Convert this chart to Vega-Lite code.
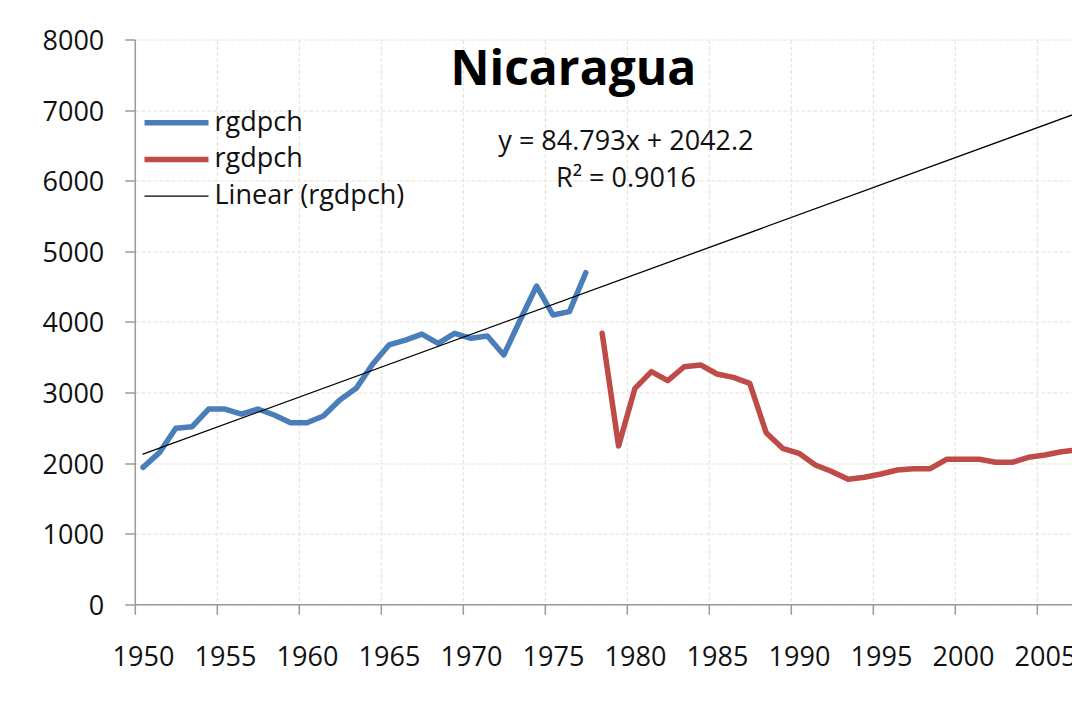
{
  "$schema": "https://vega.github.io/schema/vega-lite/v6.json",
  "width": 937.2,
  "height": 564.8,
  "autosize": {"type": "none"},
  "padding": {"left": 134.8, "top": 39.5, "right": 0, "bottom": 96.7},
  "background": "white",
  "title": {
    "text": "Nicaragua",
    "font": "Open Sans",
    "fontSize": 48,
    "fontWeight": "bold",
    "color": "#000000",
    "anchor": "middle",
    "frame": "group",
    "dx": -30,
    "baseline": "alphabetic",
    "offset": 0,
    "dy": 105
  },
  "config": {
    "view": {"stroke": null},
    "font": "Open Sans",
    "axis": {
      "domainColor": "#9a9a9a",
      "domainWidth": 1.5,
      "tickColor": "#9a9a9a",
      "tickWidth": 1.5,
      "tickSize": 10,
      "gridColor": "#e6e2d0",
      "gridDash": [4, 2],
      "gridWidth": 1,
      "labelFont": "Open Sans",
      "labelFontSize": 27,
      "labelColor": "#111111",
      "title": null
    }
  },
  "data": {
    "values": [
      {"year": 1950, "value": 1940, "series": "a"},
      {"year": 1951, "value": 2148, "series": "a"},
      {"year": 1952, "value": 2493, "series": "a"},
      {"year": 1953, "value": 2516, "series": "a"},
      {"year": 1954, "value": 2766, "series": "a"},
      {"year": 1955, "value": 2766, "series": "a"},
      {"year": 1956, "value": 2695, "series": "a"},
      {"year": 1957, "value": 2766, "series": "a"},
      {"year": 1958, "value": 2681, "series": "a"},
      {"year": 1959, "value": 2572, "series": "a"},
      {"year": 1960, "value": 2572, "series": "a"},
      {"year": 1961, "value": 2667, "series": "a"},
      {"year": 1962, "value": 2894, "series": "a"},
      {"year": 1963, "value": 3059, "series": "a"},
      {"year": 1964, "value": 3400, "series": "a"},
      {"year": 1965, "value": 3673, "series": "a"},
      {"year": 1966, "value": 3743, "series": "a"},
      {"year": 1967, "value": 3828, "series": "a"},
      {"year": 1968, "value": 3697, "series": "a"},
      {"year": 1969, "value": 3838, "series": "a"},
      {"year": 1970, "value": 3768, "series": "a"},
      {"year": 1971, "value": 3800, "series": "a"},
      {"year": 1972, "value": 3531, "series": "a"},
      {"year": 1973, "value": 4027, "series": "a"},
      {"year": 1974, "value": 4508, "series": "a"},
      {"year": 1975, "value": 4098, "series": "a"},
      {"year": 1976, "value": 4145, "series": "a"},
      {"year": 1977, "value": 4697, "series": "a"},
      {"year": 1978, "value": 3838, "series": "b"},
      {"year": 1979, "value": 2242, "series": "b"},
      {"year": 1980, "value": 3059, "series": "b"},
      {"year": 1981, "value": 3295, "series": "b"},
      {"year": 1982, "value": 3167, "series": "b"},
      {"year": 1983, "value": 3365, "series": "b"},
      {"year": 1984, "value": 3390, "series": "b"},
      {"year": 1985, "value": 3262, "series": "b"},
      {"year": 1986, "value": 3215, "series": "b"},
      {"year": 1987, "value": 3130, "series": "b"},
      {"year": 1988, "value": 2431, "series": "b"},
      {"year": 1989, "value": 2210, "series": "b"},
      {"year": 1990, "value": 2139, "series": "b"},
      {"year": 1991, "value": 1973, "series": "b"},
      {"year": 1992, "value": 1880, "series": "b"},
      {"year": 1993, "value": 1771, "series": "b"},
      {"year": 1994, "value": 1799, "series": "b"},
      {"year": 1995, "value": 1846, "series": "b"},
      {"year": 1996, "value": 1902, "series": "b"},
      {"year": 1997, "value": 1921, "series": "b"},
      {"year": 1998, "value": 1921, "series": "b"},
      {"year": 1999, "value": 2054, "series": "b"},
      {"year": 2000, "value": 2054, "series": "b"},
      {"year": 2001, "value": 2054, "series": "b"},
      {"year": 2002, "value": 2011, "series": "b"},
      {"year": 2003, "value": 2011, "series": "b"},
      {"year": 2004, "value": 2082, "series": "b"},
      {"year": 2005, "value": 2115, "series": "b"},
      {"year": 2006, "value": 2161, "series": "b"},
      {"year": 2007, "value": 2190, "series": "b"},
      {"year": 1950, "value": 2127, "series": "c"},
      {"year": 2008, "value": 7045, "series": "c"}
    ]
  },
  "layer": [
    {
      "mark": {"type": "line", "clip": true, "strokeCap": "round", "strokeJoin": "round"},
      "encoding": {
        "x": {
          "field": "year",
          "type": "quantitative",
          "scale": {"domain": [1949.5, 2006.65], "nice": false, "zero": false},
          "axis": {
            "values": [1950, 1955, 1960, 1965, 1970, 1975, 1980, 1985, 1990, 1995, 2000, 2005],
            "format": "d",
            "tickOffset": -8.2,
            "labelOffset": 8.2,
            "labelBaseline": "alphabetic",
            "labelPadding": 50.7,
            "labelFlush": false,
            "labelOverlap": false,
            "grid": true
          }
        },
        "y": {
          "field": "value",
          "type": "quantitative",
          "scale": {"domain": [0, 8000], "nice": false},
          "axis": {
            "values": [0, 1000, 2000, 3000, 4000, 5000, 6000, 7000, 8000],
            "format": "d",
            "labelBaseline": "alphabetic",
            "labelOffset": 10,
            "labelPadding": 21,
            "grid": true
          }
        },
        "color": {
          "field": "series",
          "type": "nominal",
          "scale": {"domain": ["a", "b", "c"], "range": ["#4a7ebb", "#be4b48", "#000000"]},
          "legend": {
            "orient": "none",
            "legendX": 6.7,
            "legendY": 68.2,
            "title": null,
            "padding": 0,
            "symbolType": "stroke",
            "symbolSize": 4096,
            "clipHeight": 30,
            "rowPadding": 6.7,
            "labelOffset": 3,
            "labelFont": "Open Sans",
            "labelFontSize": 27,
            "labelColor": "#111111",
            "labelLimit": 400,
            "labelExpr": "datum.value == 'c' ? 'Linear (rgdpch)' : 'rgdpch'"
          }
        },
        "strokeWidth": {
          "field": "series",
          "type": "nominal",
          "scale": {"type": "ordinal", "domain": ["a", "b", "c"], "range": [5.5, 5.5, 1.3]},
          "legend": {
            "orient": "none",
            "legendX": 6.7,
            "legendY": 68.2,
            "title": null,
            "padding": 0,
            "symbolType": "stroke",
            "symbolSize": 4096,
            "clipHeight": 30,
            "rowPadding": 6.7,
            "labelOffset": 3,
            "labelFont": "Open Sans",
            "labelFontSize": 27,
            "labelColor": "#111111",
            "labelLimit": 400,
            "labelExpr": "datum.value == 'c' ? 'Linear (rgdpch)' : 'rgdpch'"
          }
        }
      }
    },
    {
      "data": {"values": [{}]},
      "mark": {
        "type": "text",
        "text": "y = 84.793x + 2042.2\nR² = 0.9016",
        "lineBreak": "\n",
        "lineHeight": 37.3,
        "font": "Open Sans",
        "fontSize": 27,
        "color": "#111111",
        "align": "center",
        "baseline": "alphabetic"
      },
      "encoding": {
        "x": {"datum": 1979.45, "type": "quantitative"},
        "y": {"datum": 6435, "type": "quantitative"}
      }
    }
  ]
}
